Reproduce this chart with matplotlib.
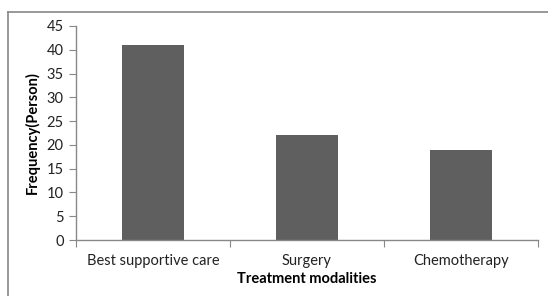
import matplotlib
matplotlib.use("Agg")
import matplotlib.pyplot as plt
from matplotlib.lines import Line2D

categories = ["Best supportive care", "Surgery", "Chemotherapy"]
values = [41, 22, 19]
yticks = [0, 5, 10, 15, 20, 25, 30, 35, 40, 45]

plt.rcParams['font.family'] = ['Lato', 'DejaVu Sans']

W, H = 548, 296
fig = plt.figure(figsize=(W / 100, H / 100), dpi=100)
ax = fig.add_axes([76 / W, (H - 240) / H, (538 - 76) / W, (240 - 26) / H])

x = list(range(len(categories)))
ax.bar(x, values, width=0.4, color="#5f5f5f", zorder=2)
ax.set_xlim(-0.5, len(categories) - 0.5)
ax.set_ylim(0, 45)
ax.set_yticks(yticks)
ax.tick_params(axis='y', direction='out', length=5, color='#888888', labelsize=10.5, pad=4,
               labelcolor='#222222')

ax.set_xticks([i - 0.5 for i in range(len(categories) + 1)])
ax.set_xticklabels([])
ax.set_xticks(x, minor=True)
ax.set_xticklabels(categories, minor=True)
ax.tick_params(axis='x', which='major', direction='out', length=5, color='#888888')
ax.tick_params(axis='x', which='minor', length=0, labelsize=10.5, pad=10, labelcolor='#222222')

for s in ['top', 'right']:
    ax.spines[s].set_visible(False)
for s in ['left', 'bottom']:
    ax.spines[s].set_color('#888888')
    ax.spines[s].set_linewidth(1.0)

ax.set_xlabel("Treatment modalities", fontsize=10.5, fontweight='bold', labelpad=3)
ax.set_ylabel("Frequency(Person)", fontsize=10.5, fontweight='bold', labelpad=5)

# outer border (top and left)
fig.add_artist(Line2D([8 / W, 1.0], [1 - 12 / H, 1 - 12 / H], transform=fig.transFigure, color='#888888', lw=1.2))
fig.add_artist(Line2D([8 / W, 8 / W], [0.0, 1 - 12 / H], transform=fig.transFigure, color='#888888', lw=1.2))

fig.savefig("out.png", dpi=100)
